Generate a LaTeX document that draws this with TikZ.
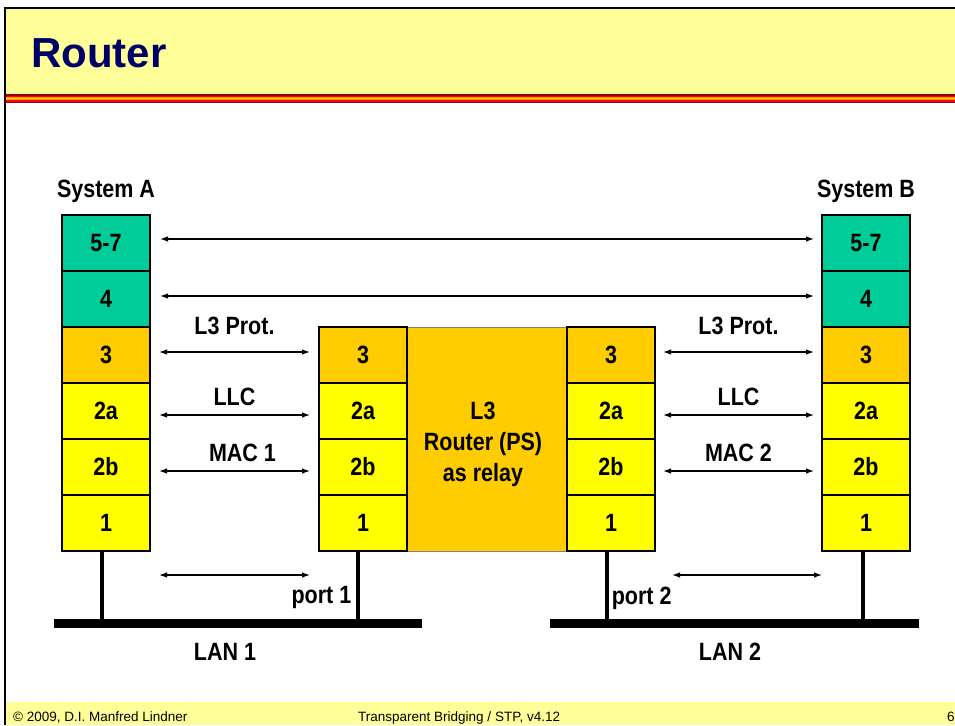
\documentclass[tikz,border=0pt]{standalone}
\usepackage{fontspec}
\setmainfont{Liberation Sans}
\newfontfamily\narrowsf{Liberation Sans}[FakeStretch=0.86]
\usepackage{tikz}
\usetikzlibrary{positioning, arrows.meta}
\definecolor{titleyellow}{RGB}{255, 255, 153}
\definecolor{titleblue}{RGB}{0, 0, 102}
\definecolor{layerteal}{RGB}{0, 204, 153}
\definecolor{layerorange}{RGB}{255, 204, 0}
\definecolor{layeryellow}{RGB}{255, 255, 0}
\definecolor{stripedark}{RGB}{153, 0, 0}
\definecolor{stripered}{RGB}{255, 0, 0}
\definecolor{stripeorange}{RGB}{255, 153, 0}

\begin{document}
\begin{tikzpicture}[x=1pt, y=-1pt, >={Latex[length=8pt, width=5.5pt]},
    every node/.style={font=\narrowsf\bfseries\fontsize{25}{31}\selectfont},
    layer/.style={draw, line width=1.2pt, minimum width=88pt, minimum height=56pt, inner sep=0pt, outer sep=0pt},
    conn/.style={<->, line width=1.2pt},
    lbl/.style={inner sep=0pt},
    tap/.style={line width=3.5pt},
    lanbar/.style={fill=black, minimum height=9pt, inner sep=0pt, outer sep=0pt}]
    \useasboundingbox (0,0) rectangle (955,725);

    % Slide frame
    \fill[titleyellow] (5,8) rectangle (955,94);
    \fill[stripedark] (5,94) rectangle (955,95.5);
    \fill[stripered] (5,95.5) rectangle (955,96.8);
    \fill[stripeorange] (5,96.8) rectangle (955,98);
    \fill[layerorange] (5,98) rectangle (955,99.2);
    \fill[stripeorange] (5,99.2) rectangle (955,100.4);
    \fill[stripered] (5,100.4) rectangle (955,101.6);
    \fill[stripedark] (5,101.6) rectangle (955,103);
    \fill[titleyellow] (5,702) rectangle (955,725);
    \draw[line width=2pt] (955,8) -- (5,8) -- (5,725);
    \node (title) [anchor=base west, inner sep=0pt, text=titleblue, font=\rmfamily\bfseries\fontsize{42}{50}\selectfont] at (31,67) {Router};
    \node (copy) [anchor=base west, inner sep=0pt, font=\rmfamily\fontsize{13.5}{16}\selectfont] at (13,721.5) {\textcopyright{} 2009, D.I. Manfred Lindner};
    \node (course) [anchor=base west, inner sep=0pt, font=\rmfamily\fontsize{13.5}{16}\selectfont] at (358,721.5) {Transparent Bridging / STP, v4.12};
    \node (page) [anchor=base west, inner sep=0pt, font=\rmfamily\fontsize{13.5}{16}\selectfont] at (947,721.5) {6};

    % Router relay
    \node (relay) [draw=gray, line width=1pt, fill=layerorange, minimum width=160pt, minimum height=224pt, inner sep=0pt] at (487,439) {};
    \node (relaytext) [align=center, inner sep=0pt] at ([xshift=-4pt, yshift=-5pt]relay.center) {L3\\Router (PS)\\as relay};

    % System A
    \node (a57) [layer, fill=layerteal] at (106,243) {5-7};
    \node (a4) [layer, fill=layerteal, below=0pt of a57] {4};
    \node (a3) [layer, fill=layerorange, below=0pt of a4] {3};
    \node (a2a) [layer, fill=layeryellow, below=0pt of a3] {2a};
    \node (a2b) [layer, fill=layeryellow, below=0pt of a2a] {2b};
    \node (a1) [layer, fill=layeryellow, below=0pt of a2b] {1};
    \node (sysa) [above=12pt of a57, inner sep=0pt] {System A};

    % Router, port 1 side
    \node (ra3) [layer, fill=layerorange] at (363,355) {3};
    \node (ra2a) [layer, fill=layeryellow, below=0pt of ra3] {2a};
    \node (ra2b) [layer, fill=layeryellow, below=0pt of ra2a] {2b};
    \node (ra1) [layer, fill=layeryellow, below=0pt of ra2b] {1};

    % Router, port 2 side
    \node (rb3) [layer, fill=layerorange] at (611,355) {3};
    \node (rb2a) [layer, fill=layeryellow, below=0pt of rb3] {2a};
    \node (rb2b) [layer, fill=layeryellow, below=0pt of rb2a] {2b};
    \node (rb1) [layer, fill=layeryellow, below=0pt of rb2b] {1};

    % System B
    \node (b57) [layer, fill=layerteal] at (866,243) {5-7};
    \node (b4) [layer, fill=layerteal, below=0pt of b57] {4};
    \node (b3) [layer, fill=layerorange, below=0pt of b4] {3};
    \node (b2a) [layer, fill=layeryellow, below=0pt of b3] {2a};
    \node (b2b) [layer, fill=layeryellow, below=0pt of b2a] {2b};
    \node (b1) [layer, fill=layeryellow, below=0pt of b2b] {1};
    \node (sysb) [above=12pt of b57, inner sep=0pt] {System B};

    % LANs
    \node (lan1) [lanbar, minimum width=368pt] at (238,623.5) {};
    \node (lan2) [lanbar, minimum width=369pt] at (734.5,623.5) {};
    \node (lan1lbl) [below=15pt of lan1, xshift=-13pt, inner sep=0pt] {LAN 1};
    \node (lan2lbl) [below=15pt of lan2, xshift=-4.5pt, inner sep=0pt] {LAN 2};

    \draw[tap] ([xshift=-4pt]a1.south) -- ([xshift=-4pt]a1.south |- lan1.north);
    \draw[tap] ([xshift=-5pt]ra1.south) -- ([xshift=-5pt]ra1.south |- lan1.north)
        node[pos=0.69, left=5pt, inner sep=0pt, font=\narrowsf\fontsize{25}{31}\selectfont\bfseries] {port 1};
    \draw[tap] ([xshift=-4pt]rb1.south) -- ([xshift=-4pt]rb1.south |- lan2.north)
        node[pos=0.69, right=3pt, inner sep=0pt] {port 2};
    \draw[tap] ([xshift=-3pt]b1.south) -- ([xshift=-3pt]b1.south |- lan2.north);

    % Peer arrows
    \draw[conn, shorten <=10pt, shorten >=8pt] ([yshift=4pt]a57.east) -- ([yshift=4pt]b57.west);
    \draw[conn, shorten <=10pt, shorten >=8pt] ([yshift=3pt]a4.east) -- ([yshift=3pt]b4.west);
    \draw[conn, shorten <=9pt, shorten >=9pt] ([yshift=3pt]a3.east) -- node[lbl, above=17pt] {L3 Prot.} ([yshift=3pt]ra3.west);
    \draw[conn, shorten <=9pt, shorten >=9pt] ([yshift=-4pt]a2a.east) -- node[lbl, above=9pt] {LLC} ([yshift=-4pt]ra2a.west);
    \draw[conn, shorten <=9pt, shorten >=9pt] ([yshift=-4pt]a2b.east) -- node[lbl, above=9pt, xshift=8pt] {MAC 1} ([yshift=-4pt]ra2b.west);
    \draw[conn, shorten <=9pt, shorten >=9pt] ([yshift=-52pt]a1.east) -- ([yshift=-52pt]ra1.west);
    \draw[conn, shorten <=8pt, shorten >=8pt] ([yshift=3pt]rb3.east) -- node[lbl, above=17pt] {L3 Prot.} ([yshift=3pt]b3.west);
    \draw[conn, shorten <=8pt, shorten >=8pt] ([yshift=-4pt]rb2a.east) -- node[lbl, above=9pt] {LLC} ([yshift=-4pt]b2a.west);
    \draw[conn, shorten <=8pt, shorten >=8pt] ([yshift=-4pt]rb2b.east) -- node[lbl, above=9pt] {MAC 2} ([yshift=-4pt]b2b.west);
    \draw[conn, shorten <=17pt, shorten >=0pt] ([yshift=-52pt]rb1.east) -- ([yshift=-52pt]b1.west);
\end{tikzpicture}
\end{document}
